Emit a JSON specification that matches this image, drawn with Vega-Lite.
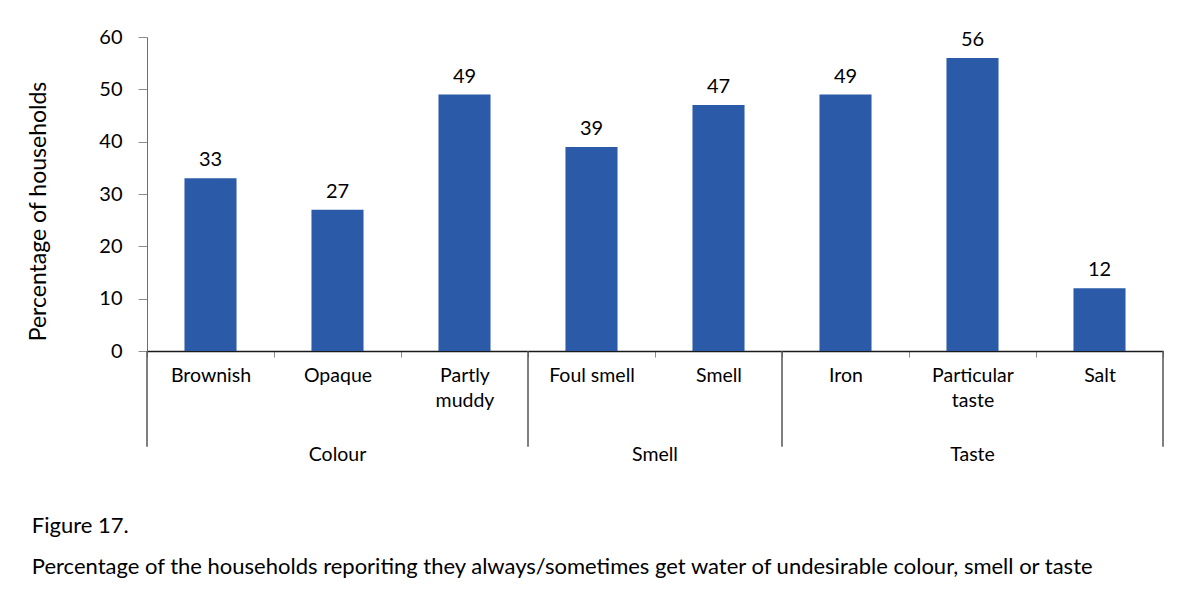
{
  "$schema": "https://vega.github.io/schema/vega-lite/v6.json",
  "width": 1016,
  "height": 314,
  "autosize": "none",
  "padding": {"left": 147, "top": 37, "right": 37, "bottom": 257},
  "background": "white",
  "config": {
    "view": {"stroke": null},
    "font": "Lato",
    "axis": {"labelFont": "Lato", "titleFont": "Lato", "labelColor": "#000000", "titleColor": "#000000"}
  },
  "title": {
    "text": [
      "Figure 17.",
      "Percentage of the households reporiting they always/sometimes get water of undesirable colour, smell or taste"
    ],
    "orient": "bottom",
    "anchor": "start",
    "frame": "bounds",
    "fontSize": 22,
    "fontWeight": "normal",
    "color": "#000000",
    "lineHeight": 41,
    "offset": 52,
    "dx": 4
  },
  "datasets": {
    "bars": [
      {"group": "Colour", "category": "Brownish", "percent": 33},
      {"group": "Colour", "category": "Opaque", "percent": 27},
      {"group": "Colour", "category": "Partly muddy", "percent": 49},
      {"group": "Smell", "category": "Foul smell", "percent": 39},
      {"group": "Smell", "category": "Smell", "percent": 47},
      {"group": "Taste", "category": "Iron", "percent": 49},
      {"group": "Taste", "category": "Particular taste", "percent": 56},
      {"group": "Taste", "category": "Salt", "percent": 12}
    ],
    "groupStarts": [
      {"category": "Brownish"},
      {"category": "Foul smell"},
      {"category": "Iron"}
    ],
    "groupEnd": [
      {"category": "Salt"}
    ],
    "groupLabelsCentred": [
      {"group": "Colour", "category": "Opaque"},
      {"group": "Taste", "category": "Particular taste"}
    ],
    "groupLabelsBetween": [
      {"group": "Smell", "category": "Smell"}
    ]
  },
  "layer": [
    {
      "data": {"name": "bars"},
      "mark": {"type": "bar", "width": {"band": 0.41}, "color": "#2b5ba8"},
      "encoding": {
        "x": {
          "field": "category",
          "type": "nominal",
          "sort": null,
          "title": null,
          "scale": {
            "domain": ["Brownish", "Opaque", "Partly muddy", "Foul smell", "Smell", "Iron", "Particular taste", "Salt"],
            "paddingInner": 0,
            "paddingOuter": 0
          },
          "axis": {
            "labelAngle": 0,
            "labelFontSize": 19.5,
            "labelPadding": 9,
            "labelLineHeight": 25,
            "labelExpr": "datum.label == 'Foul smell' ? datum.label : split(datum.label, ' ')",
            "tickBand": "extent",
            "tickSize": 6,
            "tickColor": "#8c8c8c",
            "domainColor": "#1a1a1a",
            "domainWidth": 1.5,
            "grid": false
          }
        },
        "y": {
          "field": "percent",
          "type": "quantitative",
          "scale": {"domain": [0, 60]},
          "axis": {
            "title": "Percentage of households",
            "titleFontSize": 23,
            "titleFontWeight": "normal",
            "titlePadding": 48,
            "titleY": 174,
            "values": [0, 10, 20, 30, 40, 50, 60],
            "labelFontSize": 20,
            "labelPadding": 16,
            "tickSize": 9,
            "tickColor": "#8c8c8c",
            "domainColor": "#6e6e6e",
            "grid": false
          }
        }
      }
    },
    {
      "data": {"name": "bars"},
      "mark": {"type": "text", "baseline": "bottom", "dy": -8, "fontSize": 20, "color": "#000000"},
      "encoding": {
        "x": {"field": "category", "type": "nominal", "sort": null, "title": null},
        "y": {"field": "percent", "type": "quantitative", "scale": {"domain": [0, 60]}},
        "text": {"field": "percent", "type": "quantitative"}
      }
    },
    {
      "data": {"name": "groupStarts"},
      "mark": {"type": "rule", "color": "#555555", "strokeWidth": 1.5},
      "encoding": {
        "x": {"field": "category", "type": "nominal", "bandPosition": 0, "title": null},
        "y": {"datum": 0, "type": "quantitative", "scale": {"domain": [0, 60]}},
        "y2": {"datum": -18.3}
      }
    },
    {
      "data": {"name": "groupEnd"},
      "mark": {"type": "rule", "color": "#555555", "strokeWidth": 1.5},
      "encoding": {
        "x": {"field": "category", "type": "nominal", "bandPosition": 1, "title": null},
        "y": {"datum": 0, "type": "quantitative", "scale": {"domain": [0, 60]}},
        "y2": {"datum": -18.3}
      }
    },
    {
      "data": {"name": "groupLabelsCentred"},
      "mark": {"type": "text", "baseline": "top", "dy": -1, "fontSize": 19.5, "color": "#000000"},
      "encoding": {
        "x": {"field": "category", "type": "nominal", "title": null},
        "y": {"datum": -18.3, "type": "quantitative", "scale": {"domain": [0, 60]}},
        "text": {"field": "group", "type": "nominal"}
      }
    },
    {
      "data": {"name": "groupLabelsBetween"},
      "mark": {"type": "text", "baseline": "top", "dy": -1, "fontSize": 19.5, "color": "#000000"},
      "encoding": {
        "x": {"field": "category", "type": "nominal", "bandPosition": 0, "title": null},
        "y": {"datum": -18.3, "type": "quantitative", "scale": {"domain": [0, 60]}},
        "text": {"field": "group", "type": "nominal"}
      }
    }
  ]
}
